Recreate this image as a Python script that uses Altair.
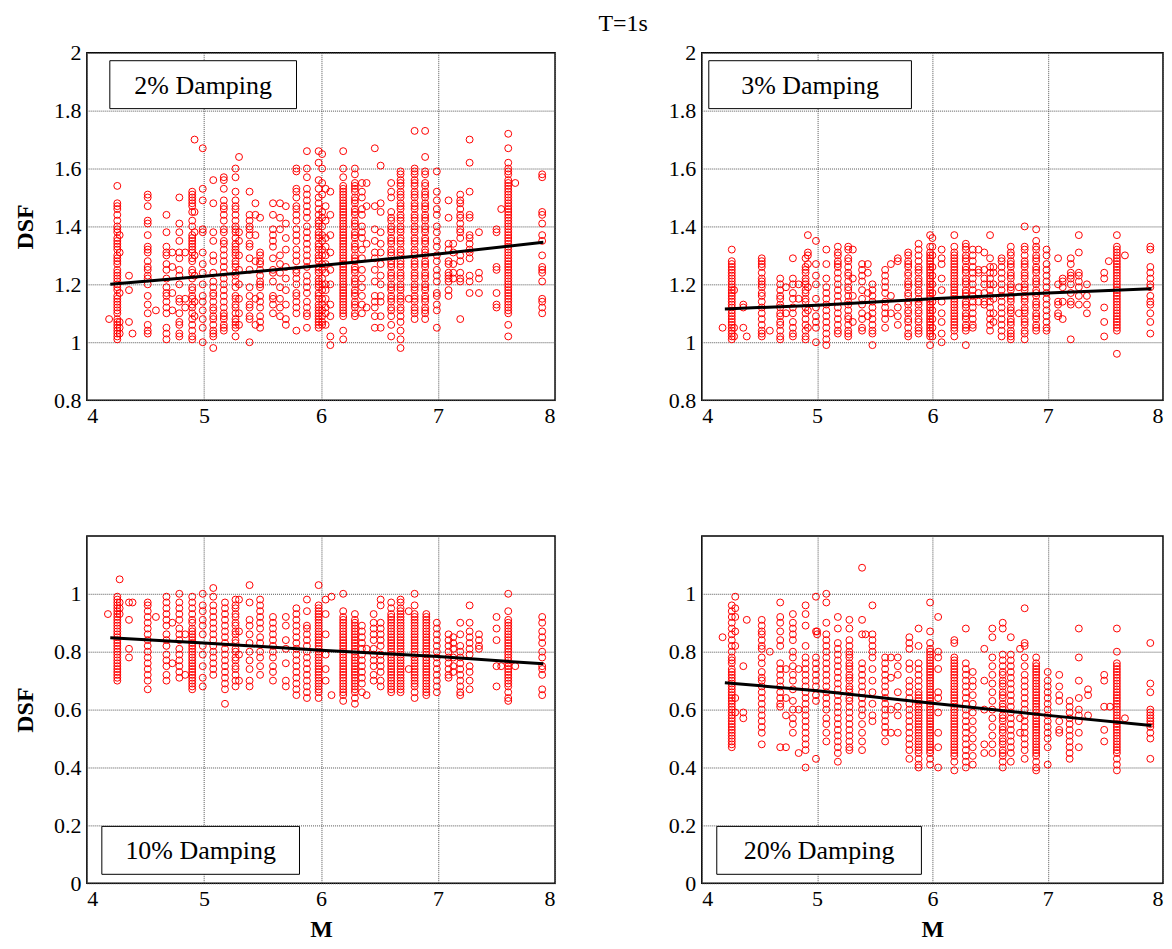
import altair as alt
import pandas as pd

FONT = "Liberation Serif"

# ---- 2% damping: (M column, DSF values) ----
D2 = [
    (4.19, "1.08"),
    (4.26, "1.54 1.48 1.47 1.46 1.44 1.42 1.40 1.39 1.38 1.36 1.35 1.34 1.33 1.32 1.30 1.29 1.28 1.27 1.25 1.24 1.23 1.22 1.21 1.20 1.19 1.18 1.16 1.15 1.14 1.13 1.12 1.11 1.10 1.08 1.07 1.06 1.05 1.04 1.03 1.02 1.01"),
    (4.28, "1.37 1.31 1.17 1.07 1.05 1.03"),
    (4.36, "1.23 1.18 1.07"),
    (4.39, "1.03"),
    (4.52, "1.51 1.50 1.47 1.42 1.41 1.37 1.33 1.32 1.31 1.28 1.26 1.25 1.23 1.22 1.20 1.16 1.13 1.10 1.06 1.04 1.03"),
    (4.59, "1.11"),
    (4.68, "1.44 1.38 1.33 1.31 1.30 1.27 1.25 1.22 1.19 1.17 1.16 1.14 1.12 1.10 1.05 1.03 1.01"),
    (4.73, "1.31 1.26 1.17 1.11"),
    (4.79, "1.50 1.41 1.38 1.35 1.31 1.29 1.25 1.23 1.20 1.15 1.14 1.10 1.07 1.06 1.03 1.02"),
    (4.84, "1.31 1.15 1.12"),
    (4.90, "1.52 1.51 1.50 1.49 1.48 1.47 1.45 1.42 1.40 1.37 1.36 1.35 1.34 1.33 1.32 1.31 1.29 1.28 1.25 1.24 1.22 1.19 1.18 1.16 1.15 1.13 1.12 1.10 1.08 1.06 1.04 1.02 1.01"),
    (4.92, "1.70 1.45 1.38 1.30 1.23 1.14 1.09"),
    (4.99, "1.67 1.53 1.49 1.39 1.38 1.31 1.27 1.24 1.20 1.16 1.14 1.11 1.08 1.05 1.00"),
    (5.08, "1.56 1.48 1.38 1.35 1.30 1.28 1.24 1.21 1.19 1.17 1.16 1.14 1.12 1.11 1.09 1.08 1.06 1.04 1.03 1.02 0.98"),
    (5.17, "1.57 1.56 1.53 1.49 1.47 1.46 1.44 1.42 1.39 1.38 1.35 1.34 1.32 1.30 1.28 1.26 1.24 1.22 1.20 1.18 1.16 1.14 1.12 1.10 1.09 1.08 1.06 1.05 1.04"),
    (5.27, "1.60 1.57 1.52 1.49 1.47 1.46 1.44 1.42 1.40 1.39 1.38 1.36 1.34 1.33 1.32 1.31 1.30 1.28 1.27 1.26 1.24 1.23 1.21 1.19 1.16 1.15 1.13 1.12 1.10 1.08 1.07 1.06 1.05 1.02"),
    (5.30, "1.64 1.38 1.35 1.30 1.25 1.20 1.15 1.10 1.06"),
    (5.39, "1.52 1.44 1.42 1.40 1.39 1.37 1.34 1.33 1.29 1.25 1.19 1.16 1.13 1.12 1.09 1.08 1.00"),
    (5.44, "1.48 1.44 1.37 1.28 1.15 1.06"),
    (5.48, "1.43 1.31 1.30 1.28 1.27 1.25 1.23 1.21 1.20 1.19 1.16 1.14 1.12 1.09 1.07 1.05"),
    (5.59, "1.48 1.44 1.39 1.37 1.35 1.33 1.29 1.25 1.24 1.21 1.16 1.15 1.13 1.10"),
    (5.65, "1.48 1.43 1.39 1.30 1.27 1.24 1.19 1.15 1.12 1.09"),
    (5.70, "1.47 1.41 1.36 1.32 1.26 1.22 1.18 1.13 1.08 1.06"),
    (5.79, "1.60 1.59 1.53 1.52 1.50 1.47 1.46 1.44 1.42 1.39 1.37 1.35 1.32 1.30 1.28 1.25 1.24 1.22 1.20 1.17 1.16 1.14 1.12 1.10 1.04"),
    (5.88, "1.66 1.60 1.57 1.53 1.51 1.49 1.47 1.45 1.43 1.40 1.38 1.36 1.34 1.32 1.30 1.28 1.26 1.23 1.21 1.19 1.17 1.14 1.12 1.10 1.09 1.05"),
    (5.98, "1.66 1.62 1.56 1.53 1.50 1.48 1.46 1.44 1.42 1.41 1.40 1.38 1.37 1.36 1.34 1.33 1.32 1.30 1.29 1.28 1.26 1.25 1.24 1.22 1.21 1.20 1.19 1.17 1.16 1.15 1.13 1.12 1.11 1.10 1.09 1.08 1.07 1.06 1.05"),
    (6.01, "1.65 1.60 1.55 1.51 1.45 1.43 1.40 1.37 1.35 1.32 1.30 1.27 1.25 1.22 1.20 1.18 1.15 1.13 1.11 1.09 1.07 1.06"),
    (6.04, "1.53 1.47 1.42 1.36 1.33 1.30 1.27 1.24 1.20 1.18 1.15 1.12 1.10 1.06"),
    (6.08, "1.52 1.44 1.37 1.31 1.25 1.20 1.13 1.09 1.02 0.99"),
    (6.19, "1.66 1.60 1.57 1.54 1.53 1.52 1.51 1.50 1.49 1.48 1.47 1.46 1.45 1.44 1.43 1.42 1.41 1.40 1.39 1.38 1.37 1.36 1.35 1.34 1.33 1.32 1.31 1.30 1.29 1.28 1.27 1.26 1.25 1.24 1.23 1.22 1.21 1.20 1.19 1.18 1.17 1.16 1.15 1.14 1.13 1.12 1.11 1.10 1.09 1.04 1.01"),
    (6.29, "1.60 1.58 1.55 1.54 1.53 1.52 1.50 1.49 1.48 1.46 1.45 1.44 1.42 1.41 1.40 1.38 1.37 1.36 1.34 1.33 1.32 1.30 1.29 1.28 1.26 1.25 1.24 1.22 1.21 1.20 1.18 1.17 1.16 1.14 1.13 1.12 1.10 1.09"),
    (6.35, "1.55 1.52 1.50 1.46 1.44 1.40 1.38 1.36 1.32 1.29 1.25 1.22 1.19 1.16 1.13 1.10"),
    (6.39, "1.55 1.47 1.34 1.12"),
    (6.46, "1.67 1.47 1.39 1.35 1.31 1.29 1.25 1.21 1.16 1.14 1.12 1.09 1.05"),
    (6.51, "1.61 1.48 1.45 1.38 1.34 1.31 1.27 1.23 1.20 1.16 1.14 1.09 1.05"),
    (6.60, "1.55 1.52 1.50 1.45 1.43 1.42 1.40 1.39 1.38 1.36 1.35 1.34 1.32 1.31 1.30 1.28 1.27 1.26 1.24 1.23 1.22 1.20 1.19 1.18 1.16 1.15 1.14 1.12 1.11 1.09 1.06 1.02"),
    (6.68, "1.59 1.58 1.56 1.55 1.54 1.52 1.51 1.50 1.48 1.47 1.46 1.44 1.43 1.42 1.40 1.39 1.38 1.36 1.35 1.34 1.32 1.31 1.30 1.28 1.27 1.26 1.24 1.23 1.22 1.20 1.19 1.18 1.16 1.15 1.14 1.12 1.11 1.09 1.07 1.04 1.01 0.98"),
    (6.75, "1.15"),
    (6.80, "1.73 1.60 1.59 1.58 1.56 1.55 1.54 1.52 1.51 1.50 1.48 1.47 1.46 1.44 1.43 1.42 1.40 1.39 1.38 1.36 1.35 1.34 1.32 1.31 1.30 1.28 1.27 1.26 1.24 1.23 1.22 1.20 1.19 1.18 1.16 1.15 1.14 1.12 1.11 1.10 1.08"),
    (6.89, "1.73 1.64 1.59 1.58 1.55 1.54 1.52 1.51 1.50 1.48 1.47 1.46 1.44 1.43 1.42 1.40 1.39 1.38 1.36 1.35 1.34 1.32 1.31 1.30 1.28 1.27 1.26 1.24 1.23 1.22 1.20 1.19 1.18 1.16 1.15 1.14 1.12 1.11 1.10 1.08"),
    (6.99, "1.59 1.52 1.49 1.46 1.44 1.40 1.38 1.35 1.33 1.30 1.28 1.25 1.23 1.21 1.17 1.16 1.13 1.11 1.05"),
    (7.09, "1.49 1.43 1.34 1.32 1.28 1.27 1.24 1.23 1.22 1.21 1.18 1.16"),
    (7.13, "1.34 1.31 1.27 1.24 1.22"),
    (7.19, "1.51 1.49 1.48 1.46 1.44 1.43 1.41 1.39 1.38 1.36 1.30 1.28 1.24 1.22 1.21 1.08"),
    (7.27, "1.70 1.62 1.52 1.44 1.43 1.37 1.36 1.34 1.32 1.31 1.29 1.23 1.21 1.17"),
    (7.35, "1.38 1.24 1.22 1.17"),
    (7.50, "1.39 1.38 1.26 1.25 1.17 1.13 1.12"),
    (7.54, "1.46"),
    (7.60, "1.72 1.67 1.62 1.60 1.59 1.58 1.56 1.55 1.54 1.53 1.52 1.51 1.50 1.49 1.48 1.47 1.46 1.45 1.44 1.43 1.42 1.41 1.40 1.39 1.38 1.37 1.36 1.35 1.34 1.33 1.32 1.31 1.30 1.29 1.28 1.27 1.26 1.25 1.24 1.23 1.22 1.21 1.20 1.19 1.18 1.17 1.16 1.15 1.14 1.13 1.12 1.11 1.10 1.06 1.02"),
    (7.66, "1.55"),
    (7.89, "1.58 1.57 1.45 1.44 1.41 1.37 1.35 1.30 1.26 1.25 1.24 1.21 1.15 1.14 1.12 1.10"),
]

# ---- 3% damping ----
D3 = [
    (4.18, "1.05"),
    (4.26, "1.32 1.28 1.27 1.26 1.25 1.24 1.23 1.22 1.21 1.20 1.19 1.18 1.17 1.16 1.15 1.14 1.13 1.12 1.11 1.10 1.09 1.08 1.07 1.06 1.05 1.04 1.03 1.02 1.01"),
    (4.28, "1.18 1.05 1.02"),
    (4.36, "1.13 1.12 1.05"),
    (4.39, "1.02"),
    (4.52, "1.29 1.28 1.27 1.26 1.24 1.22 1.21 1.20 1.19 1.17 1.16 1.14 1.12 1.10 1.08 1.06 1.04 1.03 1.02"),
    (4.59, "1.04"),
    (4.68, "1.22 1.20 1.18 1.16 1.15 1.13 1.12 1.10 1.09 1.07 1.06 1.04 1.02 1.01"),
    (4.73, "1.19 1.10"),
    (4.79, "1.29 1.22 1.20 1.17 1.15 1.12 1.10 1.07 1.05 1.03 1.02"),
    (4.84, "1.20 1.15"),
    (4.90, "1.29 1.26 1.25 1.24 1.22 1.21 1.20 1.18 1.17 1.15 1.14 1.12 1.10 1.08 1.06 1.04 1.02 1.01"),
    (4.92, "1.37 1.31 1.30 1.27 1.19 1.11 1.05"),
    (4.99, "1.35 1.27 1.23 1.20 1.15 1.12 1.09 1.07 1.05 1.00"),
    (5.08, "1.32 1.27 1.22 1.19 1.17 1.15 1.13 1.11 1.09 1.07 1.05 1.03 1.01 0.99"),
    (5.18, "1.33 1.31 1.30 1.28 1.27 1.26 1.24 1.22 1.20 1.18 1.16 1.14 1.12 1.10 1.08 1.06 1.04 1.03"),
    (5.27, "1.33 1.32 1.29 1.28 1.26 1.24 1.23 1.21 1.19 1.18 1.16 1.14 1.13 1.11 1.09 1.08 1.06 1.04 1.03 1.02"),
    (5.31, "1.32 1.22 1.16 1.07"),
    (5.39, "1.27 1.25 1.23 1.21 1.18 1.15 1.13 1.10 1.08 1.05 1.04"),
    (5.44, "1.27 1.24 1.17 1.09"),
    (5.48, "1.20 1.18 1.16 1.14 1.12 1.10 1.08 1.06 1.04 1.03 0.99"),
    (5.59, "1.25 1.23 1.21 1.19 1.17 1.14 1.12 1.10 1.08 1.05"),
    (5.64, "1.27 1.16 1.10"),
    (5.70, "1.29 1.28 1.12 1.09 1.06"),
    (5.79, "1.31 1.30 1.28 1.27 1.26 1.24 1.23 1.21 1.20 1.19 1.17 1.16 1.14 1.13 1.11 1.10 1.08 1.07 1.05 1.03 1.02"),
    (5.88, "1.34 1.32 1.30 1.28 1.26 1.25 1.24 1.22 1.21 1.20 1.18 1.17 1.15 1.14 1.13 1.11 1.10 1.08 1.07 1.05 1.04 1.03"),
    (5.98, "1.37 1.33 1.31 1.30 1.29 1.28 1.27 1.26 1.25 1.24 1.23 1.22 1.21 1.20 1.19 1.18 1.17 1.16 1.15 1.14 1.13 1.12 1.11 1.10 1.09 1.08 1.07 1.06 1.05 1.04 1.03 1.02 0.99"),
    (6.00, "1.36 1.33 1.30 1.26 1.23 1.20 1.17 1.14 1.11 1.08 1.05 1.02"),
    (6.08, "1.32 1.29 1.27 1.22 1.18 1.14 1.10 1.07 1.03 1.00"),
    (6.19, "1.37 1.33 1.31 1.30 1.29 1.28 1.27 1.26 1.25 1.24 1.23 1.22 1.21 1.20 1.19 1.18 1.17 1.16 1.15 1.14 1.13 1.12 1.11 1.10 1.09 1.08 1.07 1.06 1.05 1.04 1.02"),
    (6.29, "1.34 1.33 1.32 1.30 1.29 1.28 1.26 1.25 1.24 1.22 1.21 1.20 1.18 1.17 1.16 1.14 1.13 1.12 1.10 1.09 1.08 1.06 1.05 1.04 0.99"),
    (6.35, "1.32 1.30 1.28 1.26 1.24 1.22 1.20 1.18 1.16 1.14 1.12 1.10 1.08 1.06 1.05"),
    (6.40, "1.32 1.25 1.24 1.17 1.14"),
    (6.45, "1.31 1.25 1.22 1.20 1.17 1.14 1.13"),
    (6.50, "1.37 1.29 1.26 1.24 1.22 1.20 1.18 1.16 1.14 1.12 1.10 1.08 1.06 1.04"),
    (6.53, "1.26 1.24 1.20 1.15 1.10 1.07"),
    (6.60, "1.29 1.28 1.26 1.24 1.22 1.20 1.18 1.16 1.14 1.12 1.10 1.08 1.06 1.04 1.02"),
    (6.68, "1.33 1.31 1.30 1.28 1.27 1.26 1.24 1.23 1.22 1.20 1.19 1.18 1.16 1.15 1.14 1.12 1.11 1.10 1.08 1.07 1.06 1.04 1.03 1.02 1.01"),
    (6.75, "1.19 1.10"),
    (6.80, "1.40 1.33 1.32 1.30 1.28 1.27 1.26 1.24 1.23 1.22 1.20 1.19 1.18 1.16 1.15 1.14 1.12 1.11 1.10 1.08 1.07 1.06 1.04 1.03 1.01"),
    (6.90, "1.39 1.35 1.33 1.32 1.30 1.29 1.28 1.26 1.25 1.24 1.22 1.21 1.20 1.18 1.17 1.16 1.14 1.13 1.12 1.10 1.09 1.08 1.06 1.05 1.04"),
    (6.99, "1.32 1.30 1.27 1.25 1.23 1.21 1.19 1.17 1.15 1.13 1.11 1.09 1.07 1.05 1.04"),
    (7.09, "1.29 1.20 1.14 1.13 1.10 1.09"),
    (7.13, "1.22 1.21 1.19 1.14 1.08"),
    (7.20, "1.29 1.27 1.24 1.23 1.22 1.20 1.17 1.14 1.13 1.01"),
    (7.27, "1.37 1.31 1.24 1.23 1.21 1.19 1.16 1.13"),
    (7.34, "1.20 1.16 1.13 1.10"),
    (7.49, "1.24 1.22 1.12 1.07 1.02"),
    (7.53, "1.28"),
    (7.60, "1.37 1.33 1.32 1.31 1.30 1.29 1.28 1.27 1.26 1.25 1.24 1.23 1.22 1.21 1.20 1.19 1.18 1.17 1.16 1.15 1.14 1.13 1.12 1.11 1.10 1.09 1.08 1.07 1.06 1.05 1.04 0.96"),
    (7.67, "1.30"),
    (7.89, "1.33 1.32 1.26 1.24 1.22 1.20 1.19 1.16 1.14 1.13 1.10 1.07 1.03"),
]

# ---- 10% damping ----
D10 = [
    (4.18, "0.93"),
    (4.26, "0.99 0.98 0.97 0.96 0.95 0.94 0.93 0.92 0.91 0.90 0.89 0.88 0.87 0.86 0.85 0.84 0.83 0.82 0.81 0.80 0.79 0.78 0.77 0.76 0.75 0.74 0.73 0.72 0.71 0.70"),
    (4.28, "1.05 0.97 0.95 0.93"),
    (4.36, "0.97 0.91 0.81 0.78"),
    (4.39, "0.97"),
    (4.52, "0.97 0.96 0.94 0.92 0.90 0.88 0.86 0.84 0.82 0.80 0.78 0.76 0.74 0.72 0.70 0.67"),
    (4.59, "0.92"),
    (4.68, "0.99 0.97 0.95 0.93 0.91 0.89 0.86 0.84 0.82 0.79 0.77 0.75 0.72 0.70"),
    (4.73, "0.90 0.76"),
    (4.79, "1.00 0.97 0.95 0.93 0.91 0.88 0.86 0.84 0.81 0.79 0.77 0.75 0.73 0.71"),
    (4.84, "0.86 0.72"),
    (4.90, "0.99 0.97 0.95 0.93 0.91 0.90 0.88 0.87 0.86 0.85 0.84 0.83 0.82 0.81 0.80 0.79 0.78 0.77 0.76 0.75 0.74 0.73 0.72 0.71 0.70 0.69 0.68 0.67"),
    (4.99, "1.00 0.96 0.94 0.91 0.89 0.86 0.82 0.79 0.75 0.71 0.68"),
    (5.08, "1.02 0.99 0.96 0.94 0.92 0.90 0.88 0.86 0.84 0.82 0.80 0.78 0.76 0.74 0.72"),
    (5.18, "0.97 0.95 0.93 0.91 0.89 0.87 0.85 0.83 0.81 0.79 0.77 0.75 0.73 0.71 0.69 0.67 0.62"),
    (5.27, "0.98 0.96 0.95 0.93 0.92 0.90 0.89 0.87 0.86 0.84 0.83 0.81 0.80 0.78 0.77 0.75 0.74 0.72 0.70 0.68"),
    (5.30, "0.98 0.87 0.79 0.70"),
    (5.39, "1.03 0.97 0.91 0.89 0.86 0.83 0.80 0.77 0.74 0.70 0.68"),
    (5.48, "0.98 0.96 0.94 0.92 0.90 0.88 0.85 0.83 0.80 0.78 0.75 0.72"),
    (5.59, "0.92 0.90 0.88 0.86 0.84 0.82 0.80 0.78 0.75 0.73 0.70"),
    (5.70, "0.92 0.89 0.84 0.81 0.76 0.70 0.68"),
    (5.79, "0.95 0.93 0.91 0.89 0.87 0.85 0.83 0.81 0.79 0.77 0.75 0.73 0.71 0.69 0.67 0.65"),
    (5.88, "0.98 0.94 0.89 0.88 0.86 0.84 0.82 0.80 0.78 0.76 0.74 0.72 0.70 0.68 0.66 0.64"),
    (5.98, "1.03 0.96 0.95 0.94 0.93 0.92 0.91 0.90 0.89 0.88 0.87 0.86 0.85 0.84 0.83 0.82 0.81 0.80 0.79 0.78 0.77 0.76 0.75 0.74 0.73 0.72 0.71 0.70 0.69 0.68 0.67 0.66 0.64"),
    (6.04, "0.98 0.93 0.86 0.79 0.74 0.70"),
    (6.09, "0.99 0.65"),
    (6.19, "1.00 0.94 0.92 0.91 0.90 0.89 0.88 0.87 0.86 0.85 0.84 0.83 0.82 0.81 0.80 0.79 0.78 0.77 0.76 0.75 0.74 0.73 0.72 0.71 0.70 0.69 0.68 0.67 0.66 0.65 0.63"),
    (6.29, "0.93 0.91 0.90 0.89 0.88 0.87 0.86 0.85 0.84 0.83 0.82 0.81 0.80 0.79 0.78 0.77 0.76 0.75 0.74 0.73 0.72 0.71 0.70 0.69 0.68 0.67 0.66 0.64 0.62"),
    (6.35, "0.89 0.87 0.85 0.83 0.81 0.79 0.77 0.75 0.73 0.71 0.69 0.66"),
    (6.39, "0.81 0.65"),
    (6.45, "0.93 0.90 0.88 0.86 0.84 0.81 0.79 0.77 0.75 0.72 0.70"),
    (6.51, "0.98 0.96 0.90 0.88 0.86 0.84 0.82 0.79 0.77 0.75 0.73 0.70 0.68"),
    (6.60, "0.97 0.95 0.93 0.92 0.91 0.90 0.89 0.88 0.87 0.86 0.85 0.84 0.83 0.82 0.81 0.80 0.79 0.78 0.77 0.76 0.75 0.74 0.73 0.72 0.71 0.70 0.69 0.68 0.67 0.66"),
    (6.68, "0.98 0.97 0.95 0.94 0.93 0.92 0.91 0.90 0.89 0.88 0.87 0.86 0.85 0.84 0.83 0.82 0.81 0.80 0.79 0.78 0.77 0.76 0.75 0.74 0.73 0.72 0.71 0.70 0.69 0.68 0.67 0.66"),
    (6.75, "0.94 0.74"),
    (6.80, "1.00 0.96 0.93 0.92 0.91 0.90 0.89 0.88 0.87 0.86 0.85 0.84 0.83 0.82 0.81 0.80 0.79 0.78 0.77 0.76 0.75 0.74 0.73 0.72 0.71 0.70 0.69 0.68 0.66 0.64"),
    (6.90, "0.93 0.92 0.91 0.90 0.89 0.88 0.87 0.86 0.85 0.84 0.83 0.82 0.81 0.80 0.79 0.78 0.77 0.76 0.75 0.74 0.73 0.72 0.71 0.70 0.69 0.68 0.67 0.66 0.65"),
    (6.99, "0.90 0.88 0.86 0.84 0.82 0.80 0.78 0.76 0.74 0.72 0.70 0.68 0.66"),
    (7.09, "0.86 0.84 0.82 0.80 0.78 0.76 0.74 0.72 0.71"),
    (7.13, "0.85 0.83 0.81 0.78 0.75 0.73"),
    (7.19, "0.90 0.86 0.82 0.80 0.78 0.76 0.74 0.72 0.70 0.68 0.66 0.65"),
    (7.27, "0.96 0.90 0.87 0.85 0.83 0.81 0.79 0.75 0.73 0.70 0.67"),
    (7.35, "0.86 0.84 0.82 0.81"),
    (7.50, "0.92 0.88 0.84 0.75 0.68"),
    (7.54, "0.75"),
    (7.60, "1.00 0.94 0.91 0.90 0.89 0.88 0.87 0.86 0.85 0.84 0.83 0.82 0.81 0.80 0.79 0.78 0.77 0.76 0.75 0.74 0.73 0.72 0.71 0.70 0.69 0.68 0.66 0.64 0.63"),
    (7.66, "0.75"),
    (7.89, "0.92 0.90 0.87 0.85 0.83 0.80 0.78 0.75 0.74 0.72 0.67 0.65"),
]

# ---- 20% damping ----
D20 = [
    (4.18, "0.85"),
    (4.26, "0.96 0.94 0.92 0.90 0.88 0.86 0.84 0.82 0.80 0.78 0.77 0.76 0.74 0.73 0.72 0.71 0.70 0.69 0.68 0.67 0.66 0.65 0.64 0.63 0.62 0.61 0.60 0.59 0.58 0.57 0.56 0.55 0.54 0.53 0.52 0.51 0.50 0.49 0.48 0.47"),
    (4.29, "0.99 0.95 0.92 0.87 0.82 0.64 0.59"),
    (4.36, "0.75 0.59 0.57"),
    (4.39, "0.91"),
    (4.52, "0.91 0.89 0.87 0.86 0.84 0.82 0.81 0.78 0.76 0.73 0.71 0.70 0.68 0.66 0.64 0.62 0.60 0.58 0.56 0.54 0.52 0.48"),
    (4.59, "0.80"),
    (4.68, "0.97 0.92 0.90 0.87 0.84 0.82 0.76 0.74 0.72 0.70 0.68 0.66 0.64 0.62 0.61 0.47"),
    (4.73, "0.74 0.64 0.58 0.47"),
    (4.79, "0.93 0.90 0.88 0.86 0.84 0.80 0.78 0.75 0.72 0.70 0.67 0.63 0.60 0.57 0.55 0.52"),
    (4.84, "0.74 0.60 0.45"),
    (4.90, "0.96 0.93 0.89 0.82 0.78 0.76 0.74 0.72 0.70 0.68 0.66 0.64 0.62 0.60 0.58 0.56 0.54 0.52 0.50 0.48 0.46 0.40"),
    (4.99, "0.99 0.87 0.78 0.76 0.74 0.72 0.70 0.68 0.65 0.63 0.43"),
    (5.00, "0.87 0.86"),
    (5.08, "1.00 0.97 0.90 0.86 0.84 0.82 0.80 0.78 0.76 0.74 0.72 0.70 0.68 0.66 0.64 0.62 0.60 0.57 0.55 0.52 0.49"),
    (5.18, "0.92 0.88 0.83 0.81 0.79 0.77 0.75 0.73 0.71 0.69 0.67 0.65 0.63 0.61 0.59 0.57 0.55 0.53 0.51 0.49 0.47 0.45 0.42"),
    (5.28, "0.91 0.88 0.84 0.82 0.80 0.79 0.78 0.76 0.75 0.74 0.72 0.71 0.70 0.68 0.67 0.66 0.64 0.63 0.61 0.59 0.57 0.55 0.53 0.51 0.49 0.47 0.46"),
    (5.39, "1.09 0.91 0.86 0.76 0.74 0.72 0.70 0.68 0.66 0.64 0.62 0.60 0.58 0.55 0.52 0.49 0.46"),
    (5.42, "0.86"),
    (5.48, "0.96 0.86 0.84 0.82 0.80 0.78 0.74 0.70 0.66 0.62 0.58 0.56"),
    (5.59, "0.78 0.76 0.74 0.72 0.70 0.68 0.66 0.64 0.62 0.60 0.58 0.56 0.54 0.52 0.49"),
    (5.64, "0.78 0.71 0.60 0.52"),
    (5.70, "0.78 0.75 0.72 0.66 0.61 0.58 0.52"),
    (5.80, "0.85 0.83 0.81 0.76 0.74 0.70 0.68 0.66 0.64 0.62 0.60 0.58 0.56 0.54 0.52 0.50 0.48 0.46 0.43"),
    (5.88, "0.88 0.82 0.76 0.74 0.72 0.70 0.68 0.66 0.65 0.64 0.63 0.62 0.61 0.60 0.59 0.58 0.57 0.56 0.55 0.54 0.53 0.52 0.51 0.50 0.49 0.48 0.47 0.46 0.45 0.43 0.41 0.40"),
    (5.98, "0.97 0.87 0.83 0.81 0.80 0.79 0.78 0.77 0.76 0.75 0.74 0.73 0.72 0.71 0.70 0.69 0.68 0.67 0.66 0.65 0.64 0.63 0.62 0.61 0.60 0.59 0.58 0.57 0.56 0.55 0.54 0.53 0.52 0.51 0.50 0.49 0.48 0.47 0.46 0.45 0.43 0.41"),
    (6.05, "0.92 0.80 0.78 0.74 0.66 0.64 0.59 0.52 0.47 0.40"),
    (6.19, "0.84 0.83 0.78 0.77 0.76 0.75 0.74 0.73 0.72 0.71 0.70 0.69 0.68 0.67 0.66 0.65 0.64 0.63 0.62 0.61 0.60 0.59 0.58 0.57 0.56 0.55 0.54 0.53 0.52 0.51 0.50 0.49 0.48 0.47 0.46 0.45 0.44 0.42 0.39"),
    (6.29, "0.88 0.76 0.74 0.72 0.70 0.68 0.66 0.64 0.62 0.60 0.58 0.56 0.54 0.52 0.50 0.48 0.46 0.44 0.42 0.40"),
    (6.35, "0.73 0.70 0.68 0.65 0.62 0.59 0.56 0.53 0.50 0.47 0.44 0.41"),
    (6.45, "0.81 0.70 0.60 0.48 0.45"),
    (6.52, "0.88 0.85 0.78 0.75 0.72 0.69 0.66 0.63 0.60 0.57 0.54 0.51 0.48 0.45"),
    (6.61, "0.90 0.88 0.79 0.77 0.75 0.73 0.72 0.70 0.69 0.68 0.66 0.65 0.64 0.62 0.61 0.60 0.58 0.57 0.56 0.54 0.53 0.52 0.50 0.49 0.48 0.46 0.45 0.44 0.42 0.40"),
    (6.68, "0.85 0.79 0.77 0.75 0.73 0.71 0.69 0.67 0.65 0.63 0.61 0.59 0.57 0.55 0.53 0.51 0.49 0.47 0.45 0.42"),
    (6.76, "0.81 0.57 0.52"),
    (6.80, "0.95 0.83 0.82 0.78 0.75 0.72 0.70 0.68 0.66 0.64 0.62 0.60 0.58 0.56 0.54 0.52 0.50 0.48 0.46 0.43"),
    (6.90, "0.78 0.76 0.75 0.74 0.73 0.72 0.71 0.70 0.69 0.68 0.67 0.66 0.65 0.64 0.63 0.62 0.61 0.60 0.59 0.58 0.57 0.56 0.55 0.54 0.53 0.52 0.51 0.50 0.49 0.48 0.47 0.46 0.45 0.44 0.42 0.40 0.39"),
    (7.00, "0.73 0.70 0.68 0.66 0.64 0.62 0.60 0.58 0.56 0.54 0.52 0.50 0.47 0.41"),
    (7.10, "0.72 0.68 0.65 0.63 0.56 0.53 0.52"),
    (7.19, "0.63 0.61 0.59 0.57 0.55 0.53 0.51 0.49 0.47 0.45 0.43"),
    (7.27, "0.88 0.78 0.70 0.64 0.60 0.58 0.56 0.52 0.47"),
    (7.35, "0.67 0.65 0.58"),
    (7.49, "0.72 0.70 0.61 0.53 0.49"),
    (7.54, "0.61"),
    (7.60, "0.88 0.80 0.76 0.75 0.74 0.73 0.72 0.71 0.70 0.69 0.68 0.67 0.66 0.65 0.64 0.63 0.62 0.61 0.60 0.59 0.58 0.57 0.56 0.55 0.54 0.53 0.52 0.51 0.50 0.49 0.48 0.47 0.46 0.45 0.43 0.41 0.39"),
    (7.67, "0.57"),
    (7.89, "0.83 0.69 0.66 0.60 0.59 0.58 0.57 0.56 0.55 0.54 0.52 0.50 0.43"),
]

# ---- fitted trend lines ----
TREND_M = [4.2, 5.0, 6.0, 7.0, 7.9]
TREND_2 = [1.200, 1.228, 1.265, 1.305, 1.345]
TREND_3 = [1.115, 1.128, 1.150, 1.170, 1.185]
TREND_10 = [0.848, 0.830, 0.805, 0.783, 0.758]
TREND_20 = [0.693, 0.665, 0.622, 0.580, 0.545]

LABELS = ["2% Damping", "3% Damping", "10% Damping", "20% Damping"]
X_TICKS = [4, 5, 6, 7, 8]
Y_TICKS_TOP = [0.8, 1.0, 1.2, 1.4, 1.6, 1.8, 2.0]
Y_TICKS_BOT = [0, 0.2, 0.4, 0.6, 0.8, 1.0]


def to_df(cols):
    rows = []
    for m, s in cols:
        for v in s.split():
            rows.append({"M": m, "DSF": float(v)})
    return pd.DataFrame(rows)


def panel(cols, trend, label, ydom, yticks, box, width, ytitle, xtitle):
    x = alt.X("M:Q", scale=alt.Scale(domain=[4, 8], nice=False, zero=False),
              axis=alt.Axis(values=X_TICKS, format="d", title=xtitle))
    y = alt.Y("DSF:Q", scale=alt.Scale(domain=ydom, nice=False, zero=False),
              axis=alt.Axis(values=yticks, format="~g", title=ytitle))
    pts = alt.Chart(to_df(cols)).mark_point(
        shape="circle", filled=False, color="#ff0000", size=48,
        strokeWidth=1, opacity=1).encode(x=x, y=y)
    line = alt.Chart(pd.DataFrame({"M": TREND_M, "DSF": trend})).mark_line(
        color="black", strokeWidth=3).encode(x="M:Q", y="DSF:Q")
    one = pd.DataFrame({"k": [0]})
    x0, x1, y0, y1 = box
    rect = alt.Chart(one).mark_rect(fill="white", stroke="black", strokeWidth=1).encode(
        x=alt.value(x0), x2=alt.value(x1), y=alt.value(y0), y2=alt.value(y1))
    txt = alt.Chart(one).mark_text(font=FONT, fontSize=26, align="center",
                                   baseline="middle", color="black").encode(
        x=alt.value((x0 + x1) / 2), y=alt.value((y0 + y1) / 2 + 1), text=alt.value(label))
    return alt.layer(pts, line, rect, txt).properties(width=width, height=348)


W_L = 469
W_R = 462
tl = panel(D2, TREND_2, LABELS[0], [0.8, 2.0], Y_TICKS_TOP, (23, 210, 8, 56), W_L, "DSF", None)
tr = panel(D3, TREND_3, LABELS[1], [0.8, 2.0], Y_TICKS_TOP, (7, 210, 8, 56), W_R, None, None)
bl = panel(D10, TREND_10, LABELS[2], [0, 1.2], Y_TICKS_BOT, (15, 213, 291, 339), W_L, "DSF", "M")
br = panel(D20, TREND_20, LABELS[3], [0, 1.2], Y_TICKS_BOT, (15, 220, 291, 339), W_R, None, "M")

chart = alt.vconcat(
    alt.hconcat(tl, tr, spacing=111),
    alt.hconcat(bl, br, spacing=111),
    spacing=108,
).properties(
    title=alt.TitleParams("T=1s", font=FONT, fontSize=24, fontWeight="normal",
                          anchor="middle", color="black", dx=35, offset=5),
    padding={"left": 4, "top": 3, "right": 0, "bottom": 0},
).configure_view(
    stroke="black", strokeWidth=1.5
).configure_axis(
    labelFont=FONT, labelFontSize=22, labelColor="black",
    titleFont=FONT, titleFontSize=24, titleFontWeight="bold", titleColor="black",
    grid=True, gridColor="#555555", gridDash=[1, 1], gridWidth=1,
    domain=False, ticks=False, labelPadding=6,
).configure_axisY(
    titlePadding=16,
).configure_axisX(
    titlePadding=8, labelPadding=5,
)

chart.save("out.html", embed_options={"renderer": "svg", "actions": False})
